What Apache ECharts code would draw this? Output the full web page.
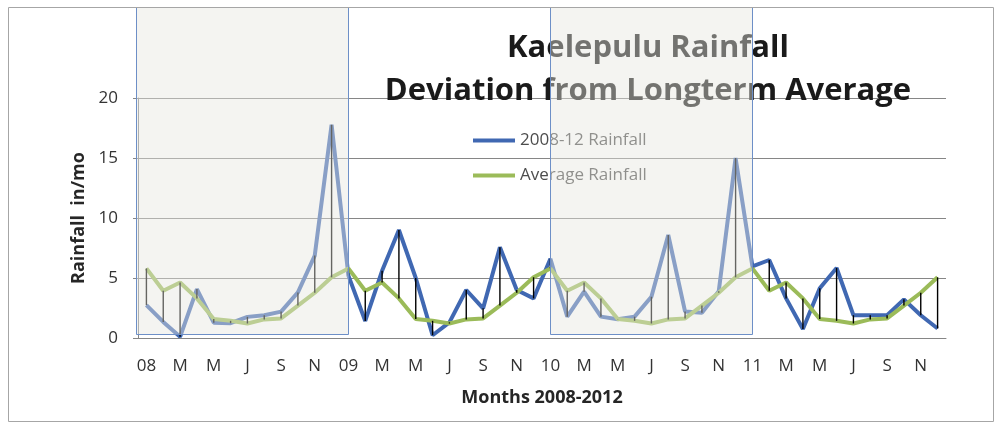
<!DOCTYPE html>
<html>
<head>
<meta charset="utf-8">
<title>Kaelepulu Rainfall</title>
<script src="https://cdn.jsdelivr.net/npm/echarts@6/dist/echarts.min.js"></script>
<style>
  html, body { margin: 0; padding: 0; background: #fff; }
  #main { width: 1005px; height: 427px; }
</style>
</head>
<body>
<div id="main"></div>
<script>
// month labels, Jan 2008 .. Dec 2011 (only every 2nd one is shown)
var months = ['08','F','M','A','M','J','J','A','S','O','N','D',
              '09','F','M','A','M','J','J','A','S','O','N','D',
              '10','F','M','A','M','J','J','A','S','O','N','D',
              '11','F','M','A','M','J','J','A','S','O','N','D'];

// monthly rainfall, in/mo
var rainfall = [2.74, 1.34, 0.1, 4.08, 1.28, 1.23, 1.76, 1.9, 2.2, 3.8, 6.87, 17.77,
                5.2, 1.42, 5.6, 9.0, 5.0, 0.23, 1.3, 4.0, 2.47, 7.56, 4.0, 3.3,
                6.6, 1.78, 3.86, 1.78, 1.56, 1.78, 3.44, 8.58, 2.2, 2.1, 3.9, 15.0,
                5.97, 6.5, 3.3, 0.75, 4.15, 5.83, 1.9, 1.9, 1.9, 3.22, 1.9, 0.79];

// longterm monthly average, in/mo
var average = [5.8, 3.94, 4.62, 3.3, 1.58, 1.43, 1.21, 1.55, 1.63, 2.7, 3.77, 5.06,
               5.8, 3.94, 4.62, 3.3, 1.58, 1.43, 1.21, 1.55, 1.63, 2.7, 3.77, 5.06,
               5.8, 3.94, 4.62, 3.3, 1.58, 1.43, 1.21, 1.55, 1.63, 2.7, 3.77, 5.06,
               5.8, 3.94, 4.62, 3.3, 1.58, 1.43, 1.21, 1.55, 1.63, 2.7, 3.77, 5.06];

var yTicks = [0, 5, 10, 15, 20];

// shaded years: [first month index, last month index]
var shaded = [[0, 12], [24, 36]];

var deviation = [];
for (var i = 0; i < months.length; i++) {
  deviation.push([i, rainfall[i], average[i]]);
}

var font = '"Open Sans", "Liberation Sans", sans-serif';
var myChart = echarts.init(document.getElementById('main'));

var option = {
  animation: false,
  backgroundColor: '#fff',
  title: {
    text: 'Kaelepulu Rainfall\nDeviation from Longterm Average',
    left: 643,
    top: 22,
    textAlign: 'center',
    textStyle: {
      fontFamily: font,
      fontWeight: 'bold',
      fontSize: 31,
      lineHeight: 43,
      color: '#1a1a1a'
    }
  },
  legend: {
    orient: 'vertical',
    left: 473,
    top: 132,
    padding: 0,
    itemWidth: 42,
    itemHeight: 4,
    itemGap: 18,
    icon: 'rect',
    data: ['2008-12 Rainfall', 'Average Rainfall'],
    textStyle: { fontFamily: font, fontSize: 17, color: '#4d4d4d' }
  },
  grid: { left: 138, right: 59, top: 98, bottom: 89 },
  xAxis: {
    type: 'category',
    data: months,
    boundaryGap: true,
    name: 'Months 2008-2012',
    nameLocation: 'middle',
    nameGap: 51,
    nameTextStyle: { fontFamily: font, fontWeight: 'bold', fontSize: 18, color: '#262626' },
    axisLine: { lineStyle: { color: '#868686' } },
    axisTick: { show: false },
    axisLabel: { interval: 1, margin: 20, fontFamily: font, fontSize: 17, color: '#333' }
  },
  yAxis: {
    type: 'value',
    min: yTicks[0],
    max: yTicks[yTicks.length - 1],
    interval: 5,
    name: 'Rainfall  in/mo',
    nameLocation: 'middle',
    nameGap: 48,
    nameTextStyle: { fontFamily: font, fontWeight: 'bold', fontSize: 18, color: '#262626' },
    axisLine: { show: true, lineStyle: { color: '#868686' } },
    axisTick: { show: true, length: 5, lineStyle: { color: '#868686' } },
    splitLine: { lineStyle: { color: '#868686', width: 1 } },
    axisLabel: { margin: 20, fontFamily: font, fontSize: 17, color: '#333' }
  },
  series: [
    {
      name: '2008-12 Rainfall',
      type: 'line',
      data: rainfall,
      symbol: 'none',
      itemStyle: { color: '#4068b2' },
      lineStyle: { color: '#4068b2', width: 4 },
      z: 2
    },
    {
      name: 'Average Rainfall',
      type: 'line',
      data: average,
      symbol: 'none',
      itemStyle: { color: '#9bbb59' },
      lineStyle: { color: '#9bbb59', width: 4 },
      z: 3
    },
    {
      // high-low lines between rainfall and average
      name: 'deviation',
      type: 'custom',
      data: deviation,
      z: 4,
      renderItem: function (params, api) {
        var a = api.coord([api.value(0), api.value(1)]);
        var b = api.coord([api.value(0), api.value(2)]);
        return {
          type: 'line',
          shape: { x1: a[0], y1: a[1], x2: b[0], y2: b[1] },
          style: { stroke: '#000', lineWidth: 1.4 }
        };
      }
    }
  ]
};
myChart.setOption(option);

// outer frame and translucent year boxes laid over the chart
var graphics = [{
  type: 'rect',
  z: 60,
  shape: { x: 8.5, y: 7.5, width: 985, height: 414 },
  style: { fill: null, stroke: '#a6a6a6', lineWidth: 1 }
}];
var y0 = myChart.convertToPixel({ gridIndex: 0 }, [0, 0])[1];
shaded.forEach(function (s, k) {
  var x1 = myChart.convertToPixel({ gridIndex: 0 }, [s[0], 0])[0];
  var x2 = myChart.convertToPixel({ gridIndex: 0 }, [s[1], 0])[0];
  if (k === 0) x1 = 136;
  graphics.push({
    type: 'rect',
    z: 50,
    shape: { x: Math.round(x1) + 0.5, y: 7.5, width: Math.round(x2 - x1), height: Math.round(y0 - 4 - 7) },
    style: { fill: 'rgba(231,231,222,0.44)', stroke: '#6d8fc7', lineWidth: 1 }
  });
});
myChart.setOption({ graphic: graphics });
</script>
</body>
</html>
